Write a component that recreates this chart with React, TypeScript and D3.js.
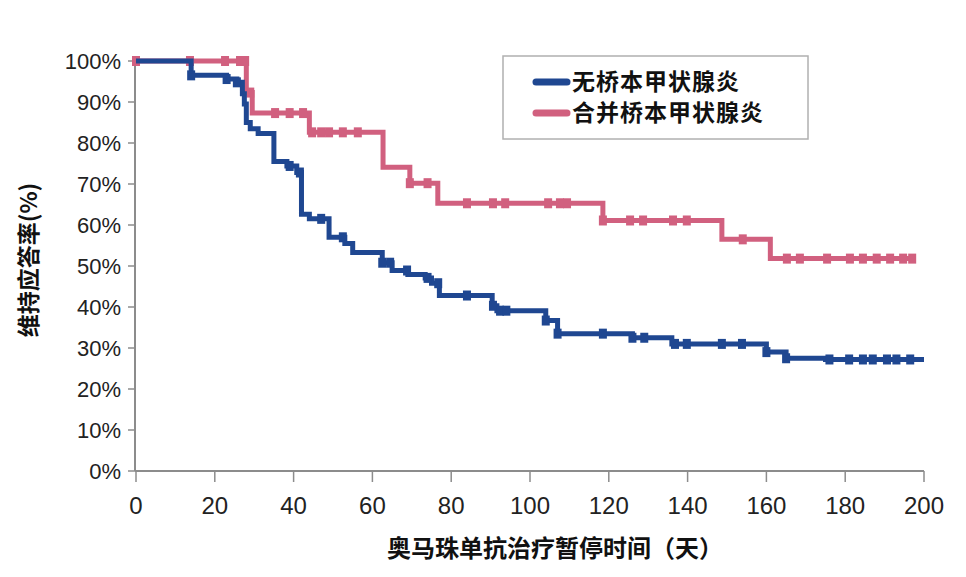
import React from "react";
import * as d3 from "d3";

const W = 966;
const H = 577;

const yTicks = [0, 10, 20, 30, 40, 50, 60, 70, 80, 90, 100];
const xTicks = [0, 20, 40, 60, 80, 100, 120, 140, 160, 180, 200];

const seriesNames = ["无桥本甲状腺炎", "合并桥本甲状腺炎"];
const seriesColors = ["#1f4791", "#d1607f"];

// Blue: no Hashimoto thyroiditis (step change points)
const blueTimes = [0, 14, 23, 25.6, 27, 27.5, 28, 29, 31, 35, 38.3, 40.8, 42, 44, 49, 53, 55, 62.5, 65, 69, 73.4, 75, 77, 90.4, 91.6, 104, 107, 126, 136, 160, 165, 175];
const blueSurv = [100, 96.5, 95.6, 94.8, 92, 89.5, 85, 83.5, 82.3, 75.5, 74.4, 72.8, 62.6, 61.5, 57, 55.5, 53.3, 50.8, 48.9, 47.9, 47.1, 45.8, 42.8, 40.3, 39.1, 36.7, 33.5, 32.5, 31, 29, 27.5, 27.2];
const blueEnd = 200;
const blueCensor = [14, 23, 25.6, 39, 41.6, 47, 52.5, 62.5, 64.5, 68.8, 74, 76.7, 84, 90.6, 92.4, 94, 104, 107, 118.5, 126, 129, 136.8, 139.8, 148.7, 153.8, 160, 165, 176, 181, 184.5, 187, 190.6, 193, 196.5];

// Pink: with Hashimoto thyroiditis
const pinkTimes = [0, 28, 29.5, 44, 62.7, 69.5, 76.6, 118.5, 148.7, 161];
const pinkSurv = [100, 92.3, 87.3, 82.6, 74.1, 70.2, 65.3, 61.1, 56.5, 51.8];
const pinkEnd = 197;
const pinkCensor = [0, 13.7, 22.6, 26.4, 27.7, 29, 35.3, 39, 42.4, 44.7, 47, 49, 52.5, 56.3, 69.5, 74, 84, 90.6, 93.7, 104.6, 107.6, 109.4, 118.5, 125.4, 128.7, 136.3, 139.8, 154, 165.2, 168.5, 175.4, 181.2, 184.5, 188, 191.4, 194.7, 197];

const x = d3.scaleLinear().domain([0, 200]).range([136, 924]);
const y = d3.scaleLinear().domain([0, 100]).range([471, 61]);

function stepValue(times: number[], surv: number[], t: number) {
  let v = surv[0];
  for (let i = 0; i < times.length; i++) if (times[i] <= t) v = surv[i];
  return v;
}

const line = d3
  .line<[number, number]>()
  .x((d) => x(d[0]))
  .y((d) => y(d[1]))
  .curve(d3.curveStepAfter);

function Curve({ times, surv, end, censor, color }: any) {
  const pts: [number, number][] = times.map((t: number, i: number) => [t, surv[i]]);
  pts.push([end, surv[surv.length - 1]]);
  return (
    <g>
      <path d={line(pts) || ""} fill="none" stroke={color} strokeWidth={5} strokeLinejoin="miter" />
      {censor.map((t: number, i: number) => (
        <rect key={i} x={x(t) - 4} y={y(stepValue(times, surv, t)) - 5} width={8} height={10} fill={color} />
      ))}
    </g>
  );
}

export default function App() {
  const latin = "'Liberation Sans', Arial, sans-serif";
  const cjk = "'Noto Sans CJK SC', 'Noto Sans', sans-serif";
  return (
    <svg width={W} height={H} style={{ position: "absolute", left: 0, top: 0, background: "#fff" }}>
      {/* axes */}
      <line x1={135} x2={135} y1={y(100)} y2={y(0)} stroke="#8c8c8c" strokeWidth={2} />
      <line x1={135} x2={x(200)} y1={y(0)} y2={y(0)} stroke="#8c8c8c" strokeWidth={2} />
      {yTicks.map((t) => (
        <g key={t}>
          <line x1={128} x2={135} y1={y(t)} y2={y(t)} stroke="#8c8c8c" strokeWidth={1.5} />
          <text x={121} y={y(t) + 8} textAnchor="end" fontFamily={latin} fontSize={22} fill="#222">
            {t}%
          </text>
        </g>
      ))}
      {xTicks.map((t) => (
        <g key={t}>
          <line x1={x(t)} x2={x(t)} y1={y(0)} y2={y(0) + 11} stroke="#8c8c8c" strokeWidth={1.5} />
          <text x={x(t)} y={514} textAnchor="middle" fontFamily={latin} fontSize={24} fill="#222">
            {t}
          </text>
        </g>
      ))}
      {/* axis titles */}
      <text
        transform={`translate(37,260) rotate(-90)`}
        textAnchor="middle"
        fontFamily={cjk}
        fontWeight="bold"
        fontSize={23}
        fill="#111"
      >
        维持应答率(%)
      </text>
      <text x={555} y={557} textAnchor="middle" fontFamily={cjk} fontWeight="bold" fontSize={24} fill="#111">
        奥马珠单抗治疗暂停时间（天）
      </text>

      <Curve times={pinkTimes} surv={pinkSurv} end={pinkEnd} censor={pinkCensor} color={seriesColors[1]} />
      <Curve times={blueTimes} surv={blueSurv} end={blueEnd} censor={blueCensor} color={seriesColors[0]} />

      {/* legend */}
      <rect x={503} y={56} width={305} height={83} fill="#fff" stroke="#b0b0b0" strokeWidth={1.5} />
      {seriesNames.map((n, i) => (
        <g key={n}>
          <line x1={536} x2={567} y1={82 + i * 31} y2={82 + i * 31} stroke={seriesColors[i]} strokeWidth={7} strokeLinecap="round" />
          <text x={572} y={90 + i * 31} fontFamily={cjk} fontWeight="bold" fontSize={23} letterSpacing={1} fill="#111">
            {n}
          </text>
        </g>
      ))}
    </svg>
  );
}
